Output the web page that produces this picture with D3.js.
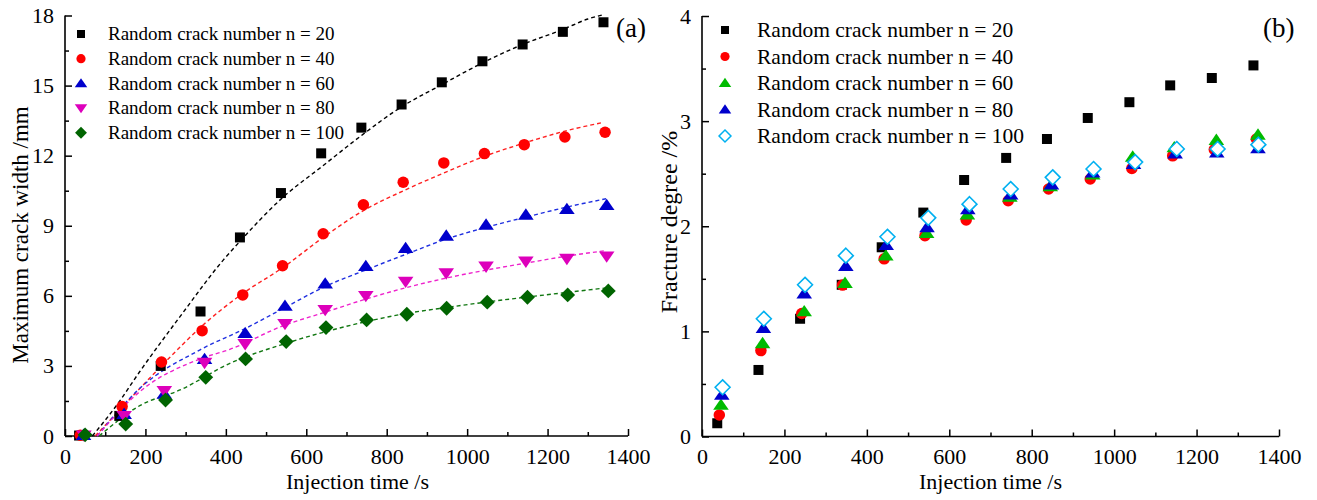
<!DOCTYPE html>
<html><head><meta charset="utf-8">
<script src="https://cdn.jsdelivr.net/npm/d3@7/dist/d3.min.js"></script>
<style>body{margin:0;background:#fff;} svg{display:block;} text{font-family:"Liberation Serif","Times New Roman",serif;fill:#000;}</style>
</head><body><svg id="c" width="1317" height="500"></svg>
<script>
// ---------- Panel (a): maximum crack width ----------
const aLabels = ["Random crack number n = 20","Random crack number n = 40","Random crack number n = 60","Random crack number n = 80","Random crack number n = 100"];
const aT20 = [35,135,238,337,435,537,637,737,837,937,1038,1138,1238,1339];
const aW20 = [0.02,0.86,3.0,5.33,8.5,10.4,12.1,13.2,14.19,15.14,16.04,16.76,17.3,17.71];
const aT40 = [38,142,240,341,442,541,642,742,841,942,1043,1142,1243,1343];
const aW40 = [0.03,1.26,3.17,4.51,6.04,7.29,8.66,9.9,10.86,11.69,12.09,12.47,12.8,13.0];
const aT60 = [46,147,247,347,448,547,647,748,847,948,1047,1146,1248,1347];
const aW60 = [0.04,0.94,1.8,3.29,4.4,5.57,6.52,7.27,8.04,8.57,9.04,9.47,9.71,9.88];
const aT80 = [47,147,247,347,448,547,647,748,847,948,1047,1146,1248,1347];
const aW80 = [0.03,0.86,1.93,3.14,3.94,4.8,5.4,6.0,6.61,6.97,7.26,7.47,7.59,7.69];
const aT100 = [50,151,250,350,449,550,649,750,850,949,1050,1150,1250,1351];
const aW100 = [0.05,0.51,1.54,2.51,3.3,4.04,4.64,4.97,5.21,5.47,5.73,5.94,6.04,6.21];
// fitted trend curves
const fT20 = [68,132,186,286,394,435,537,640,740,837,937,1038,1138,1238,1300,1335];
const fW20 = [0,1.4,2.76,5.11,7.54,8.33,10.14,11.55,12.9,14.09,15.04,15.97,16.76,17.4,17.85,18.02];
const fT40 = [75,116,240,344,442,541,642,742,842,942,1043,1142,1243,1340];
const fW40 = [0,0.75,3.0,4.76,6.1,7.2,8.5,9.65,10.5,11.26,11.97,12.54,13.05,13.43];
const fT60 = [80,186,336,448,547,647,748,848,948,1047,1146,1248,1347];
const fW60 = [0,2.04,3.69,4.6,5.5,6.4,7.11,7.78,8.43,8.93,9.37,9.8,10.16];
const fT80 = [80,186,336,410,547,647,746,848,948,1047,1146,1248,1347];
const fW80 = [0,1.9,3.3,3.71,4.75,5.3,5.85,6.35,6.76,7.1,7.4,7.7,7.94];
const fT100 = [85,186,286,410,550,649,750,850,949,1050,1150,1250,1351];
const fW100 = [0,1.3,1.97,3.11,3.97,4.47,4.9,5.25,5.5,5.74,5.95,6.15,6.35];
const aYTicks = [0,3,6,9,12,15,18];
const xTicks = [0,200,400,600,800,1000,1200,1400];

// ---------- Panel (b): fracture degree ----------
const bLabels = ["Random crack number n = 20","Random crack number n = 40","Random crack number n = 60","Random crack number n = 80","Random crack number n = 100"];
const bT20 = [37,137,238,339,436,537,636,738,837,936,1037,1136,1237,1338];
const bF20 = [0.126,0.633,1.12,1.443,1.8,2.13,2.44,2.65,2.83,3.03,3.18,3.34,3.41,3.53];
const bT40 = [42,143,242,341,442,541,641,743,841,942,1043,1142,1243,1345];
const bF40 = [0.205,0.817,1.17,1.44,1.69,1.91,2.06,2.243,2.354,2.45,2.55,2.67,2.73,2.83];
const bT60 = [46,147,248,347,446,545,644,747,845,948,1045,1146,1248,1349];
const bF60 = [0.3,0.887,1.19,1.46,1.72,1.935,2.11,2.28,2.38,2.49,2.66,2.75,2.82,2.87];
const bT80 = [48,149,248,349,447,546,645,749,848,948,1047,1148,1249,1349];
const bF80 = [0.395,1.03,1.36,1.62,1.82,1.99,2.16,2.3,2.395,2.51,2.59,2.69,2.7,2.74];
const bT100 = [50,150,250,349,450,549,649,749,851,950,1051,1152,1251,1350];
const bF100 = [0.468,1.12,1.443,1.72,1.9,2.08,2.21,2.354,2.465,2.545,2.61,2.735,2.735,2.776];
const bYTicks = [0,1,2,3,4];

const svg = d3.select("#c");

function shapePath(type, s){
  const h = s/2;
  if(type==="square") return `M${-h},${-h}H${h}V${h}H${-h}Z`;
  if(type==="circle") return `M${h},0A${h},${h} 0 1,1 ${-h},0A${h},${h} 0 1,1 ${h},0Z`;
  if(type==="up"){ const w=s*0.6, t=s*0.5; return `M0,${-t}L${w},${t*0.75}L${-w},${t*0.75}Z`; }
  if(type==="down"){ const w=s*0.6, t=s*0.5; return `M0,${t}L${w},${-t*0.75}L${-w},${-t*0.75}Z`; }
  if(type==="diamond"){ const d=s*0.62; return `M0,${-d}L${d},0L0,${d}L${-d},0Z`; }
}

function panel(cfg){
  const g = svg.append("g");
  const x = d3.scaleLinear().domain([0,1400]).range(cfg.xr);
  const y = d3.scaleLinear().domain(cfg.yd).range(cfg.yr);
  const xMinor = d3.range(100,1400,200);
  const yMinor = cfg.yMinor;
  g.append("g").attr("transform",`translate(0,${cfg.yr[0]})`)
    .call(d3.axisBottom(x).tickValues(cfg.xTicks).tickSize(-7).tickPadding(12).tickFormat(d3.format("d")));
  g.append("g").attr("transform",`translate(0,${cfg.yr[0]})`)
    .call(d3.axisBottom(x).tickValues(xMinor).tickSize(-4).tickFormat(""));
  g.append("g").attr("transform",`translate(${cfg.xr[0]},0)`)
    .call(d3.axisLeft(y).tickValues(cfg.yTicks).tickSize(-7).tickPadding(11).tickFormat(d3.format("d")));
  g.append("g").attr("transform",`translate(${cfg.xr[0]},0)`)
    .call(d3.axisLeft(y).tickValues(yMinor).tickSize(-4).tickFormat(""));
  g.selectAll(".domain").remove();
  g.append("line").attr("x1",cfg.xr[0]).attr("x2",cfg.xr[1]).attr("y1",cfg.yr[0]).attr("y2",cfg.yr[0]).attr("stroke","#000").attr("stroke-width",1.6);
  g.append("line").attr("x1",cfg.xr[0]).attr("x2",cfg.xr[0]).attr("y1",cfg.yr[0]).attr("y2",cfg.yr[1]).attr("stroke","#000").attr("stroke-width",1.6);
  g.selectAll(".tick line").attr("stroke","#000").attr("stroke-width",1.5);
  g.selectAll(".tick text").style("font-size","22px").style("font-family","'Liberation Serif',serif");
  if(cfg.fits){
    cfg.fits.forEach(f=>{
      const pts = f.t.map((t,i)=>[t,f.v[i]]);
      g.append("path").attr("d", d3.line().x(d=>x(d[0])).y(d=>y(d[1])).curve(d3.curveMonotoneX)(pts))
        .attr("fill","none").attr("stroke",f.color).attr("stroke-width",1.4).attr("stroke-dasharray","4,3");
    });
  }
  cfg.series.forEach(s=>{
    const pts = s.t.map((t,i)=>[t,s.v[i]]);
    g.selectAll(null).data(pts).enter().append("path")
      .attr("transform",d=>`translate(${x(d[0])},${y(d[1])})`)
      .attr("d",shapePath(s.shape,s.size))
      .attr("fill",s.hollow?"#fff":s.color)
      .attr("stroke",s.hollow?s.color:"none").attr("stroke-width",1.6);
  });
  cfg.series.forEach((s,i)=>{
    const yy = cfg.leg.y0 + i*cfg.leg.dy;
    g.append("path").attr("transform",`translate(${cfg.leg.mx},${yy})`)
      .attr("d",shapePath(s.shape,s.size*cfg.leg.scale))
      .attr("fill",s.hollow?"#fff":s.color).attr("stroke",s.hollow?s.color:"none").attr("stroke-width",1.5);
    g.append("text").attr("x",cfg.leg.tx).attr("y",yy+cfg.leg.fs*0.33)
      .style("font-size",cfg.leg.fs+"px").text(cfg.labels[i]);
  });
  g.append("text").attr("x",(cfg.xr[0]+cfg.xr[1])/2 + cfg.xtOff).attr("y",489).attr("text-anchor","middle")
    .style("font-size","22px").text("Injection time /s");
  g.append("text").attr("transform",`translate(${cfg.ytx},${cfg.yty}) rotate(-90)`).attr("text-anchor","middle")
    .style("font-size",cfg.ytfs+"px").text(cfg.ytitle);
  g.append("text").attr("x",cfg.tag[0]).attr("y",cfg.tag[1]).style("font-size","27px").text(cfg.tag[2]);
}

panel({
  xr:[65,628], yd:[0,18], yr:[436,15.5], xTicks:xTicks, yTicks:aYTicks, yMinor:d3.range(1.5,18,3),
  series:[
    {t:aT20,v:aW20,shape:"square",size:10,color:"#000000"},
    {t:aT40,v:aW40,shape:"circle",size:11.5,color:"#ff0000"},
    {t:aT60,v:aW60,shape:"up",size:13,color:"#0000cc"},
    {t:aT80,v:aW80,shape:"down",size:13,color:"#dd00bb"},
    {t:aT100,v:aW100,shape:"diamond",size:12,color:"#006400"}
  ],
  fits:[
    {t:fT20,v:fW20,color:"#000000"},
    {t:fT40,v:fW40,color:"#ff2020"},
    {t:fT60,v:fW60,color:"#2030e0"},
    {t:fT80,v:fW80,color:"#ee22cc"},
    {t:fT100,v:fW100,color:"#117711"}
  ],
  leg:{mx:81,tx:108,y0:34,dy:24.7,fs:19,scale:0.8},
  labels:aLabels, xtOff:11, ytx:28, yty:235, ytfs:23, ytitle:"Maximum crack width /mm", tag:[616,37,"(a)"]
});

panel({
  xr:[702,1279], yd:[0,4], yr:[436.5,16], xTicks:xTicks, yTicks:bYTicks, yMinor:[0.5,1.5,2.5,3.5],
  series:[
    {t:bT20,v:bF20,shape:"square",size:10,color:"#000000"},
    {t:bT40,v:bF40,shape:"circle",size:11.5,color:"#ff0000"},
    {t:bT60,v:bF60,shape:"up",size:13,color:"#00bb00"},
    {t:bT80,v:bF80,shape:"up",size:13,color:"#0000cc"},
    {t:bT100,v:bF100,shape:"diamond",size:12,color:"#00b0f0",hollow:true}
  ],
  leg:{mx:725,tx:757,y0:30,dy:26.5,fs:21.5,scale:0.8},
  labels:bLabels, xtOff:0, ytx:677, yty:222, ytfs:24, ytitle:"Fracture degree /%", tag:[1263,37,"(b)"]
});
</script></body></html>
